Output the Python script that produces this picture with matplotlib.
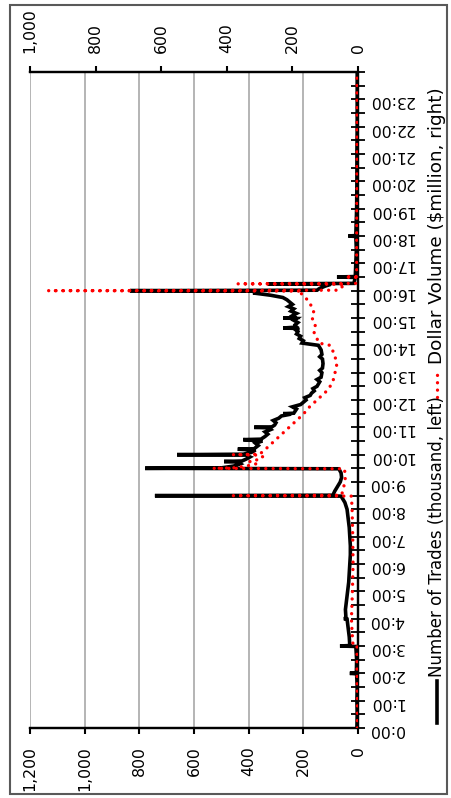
import matplotlib.pyplot as plt
from matplotlib.lines import Line2D
from matplotlib.ticker import FuncFormatter, MultipleLocator

# Number of trades (thousand, left axis) by time of day
trade_times = ["0:00", "0:30", "1:00", "1:30", "1:59", "2:00", "2:01", "2:30", "2:59", "3:00",
               "3:01", "3:20", "3:40", "3:59", "4:00", "4:01", "4:20", "4:40", "5:00", "5:20",
               "5:40", "6:00", "6:20", "6:40", "7:00", "7:20", "7:40", "8:00", "8:15", "8:29",
               "8:30", "8:31", "8:40", "8:50", "9:00", "9:10", "9:20", "9:29", "9:30", "9:31",
               "9:35", "9:40", "9:44", "9:45", "9:46", "9:50", "9:55", "9:59", "10:00", "10:01",
               "10:05", "10:10", "10:12", "10:13", "10:20", "10:25", "10:30", "10:33", "10:34", "10:40",
               "10:45", "10:50", "10:55", "10:59", "11:00", "11:01", "11:05", "11:10", "11:15", "11:20",
               "11:25", "11:29", "11:30", "11:31", "11:40", "11:45", "11:50", "11:55", "12:00", "12:05",
               "12:10", "12:15", "12:20", "12:25", "12:30", "12:35", "12:40", "12:45", "12:50", "13:00",
               "13:05", "13:10", "13:20", "13:30", "13:35", "13:40", "13:50", "14:00", "14:03", "14:05",
               "14:10", "14:15", "14:20", "14:25", "14:30", "14:35", "14:37", "14:38", "14:40", "14:45",
               "14:50", "14:55", "14:59", "15:00", "15:01", "15:05", "15:10", "15:15", "15:20", "15:25",
               "15:30", "15:35", "15:40", "15:45", "15:50", "15:55", "15:59", "16:00", "16:01", "16:05",
               "16:10", "16:14", "16:15", "16:16", "16:29", "16:30", "16:31", "17:00", "17:30", "17:59",
               "18:00", "18:01", "19:00", "20:00", "21:00", "22:00", "23:00", "23:59"]
trades = [4, 3, 4, 3, 5, 30, 6, 5, 8, 66,
          30, 32, 36, 40, 52, 44, 46, 42, 38, 34,
          32, 30, 28, 28, 30, 32, 36, 40, 48, 62,
          743, 92, 85, 75, 65, 60, 62, 70, 779, 500,
          455, 430, 440, 490, 425, 410, 395, 410, 662, 420,
          390, 375, 440, 380, 365, 375, 350, 420, 355, 340,
          330, 340, 320, 330, 380, 315, 305, 300, 310, 290,
          280, 245, 274, 235, 225, 240, 210, 200, 190, 195,
          175, 170, 160, 165, 150, 145, 140, 150, 135, 132,
          140, 130, 128, 130, 140, 132, 135, 145, 180, 205,
          200, 215, 210, 225, 220, 230, 215, 274, 225, 230,
          220, 235, 225, 274, 230, 240, 225, 245, 235, 255,
          240, 250, 260, 275, 320, 384, 360, 834, 150, 140,
          120, 100, 330, 15, 10, 77, 10, 8, 6, 8,
          35, 8, 5, 4, 4, 3, 3, 3]

# Dollar volume ($million, right axis)
vol_times = ["0:00", "1:00", "2:00", "2:59", "3:00", "3:30", "4:00", "5:00", "6:00", "7:00",
             "8:00", "8:29", "8:30", "8:31", "8:45", "9:00", "9:15", "9:29", "9:30", "9:31",
             "9:35", "9:40", "9:45", "9:50", "9:55", "9:59", "10:00", "10:01", "10:10", "10:20",
             "10:30", "10:40", "10:50", "11:00", "11:10", "11:20", "11:30", "11:40", "11:50", "12:00",
             "12:10", "12:20", "12:30", "12:45", "13:00", "13:15", "13:30", "13:45", "14:00", "14:05",
             "14:15", "14:30", "14:45", "15:00", "15:15", "15:30", "15:45", "15:55", "15:59", "16:00",
             "16:01", "16:14", "16:15", "16:16", "16:29", "16:30", "16:31", "18:00", "20:00", "22:00",
             "23:59"]
volume = [2, 2, 3, 3, 15, 18, 20, 17, 15, 16,
          18, 20, 380, 50, 45, 40, 38, 42, 442, 380,
          340, 310, 330, 300, 290, 300, 381, 300, 285, 270,
          255, 240, 225, 210, 195, 180, 165, 155, 140, 125,
          110, 95, 85, 75, 70, 65, 68, 75, 85, 120,
          125, 135, 130, 140, 135, 145, 160, 175, 170, 944,
          60, 40, 366, 5, 5, 40, 4, 4, 3, 3,
          3]

hour_labels = [f"{h}:00" for h in range(24)]


def to_hours(stamps):
    out = []
    for s in stamps:
        h, m = s.split(":")
        out.append(int(h) + int(m) / 60)
    return out


W, H = 451, 798
fig = plt.figure(figsize=(W / 100, H / 100), dpi=100)
plt.rcParams['font.family'] = 'DejaVu Sans'

# plot area in pixels: x 30..358, y 72..728
ax = fig.add_axes([30 / W, 1 - 728 / H, 328 / W, 656 / H])
ax2 = ax.twiny()

ax.plot(trades, to_hours(trade_times), color="black", lw=2.6, solid_joinstyle="miter", zorder=3)
ax2.plot(volume, to_hours(vol_times), color="#ff0000", lw=2.4, linestyle=(0, (0.01, 2.2)),
         dash_capstyle="round", zorder=4)

ax.set_xlim(1200, 0)
ax2.set_xlim(1000, 0)
ax.set_ylim(0, 24)

ax.set_xticks(range(0, 1201, 200))
ax2.set_xticks(range(0, 1001, 200))
fmt = FuncFormatter(lambda v, p: f"{int(v):,}")
ax.xaxis.set_major_formatter(fmt)
ax2.xaxis.set_major_formatter(fmt)
ax.grid(axis="x", color="#a0a0a0", lw=1.1)
ax.set_axisbelow(True)

ax.yaxis.tick_right()
ax.set_yticks(range(24))
ax.set_yticklabels(hour_labels)
ax.yaxis.set_minor_locator(MultipleLocator(0.5))

ax.tick_params(axis="x", direction="out", length=4, width=1.5, labelsize=11.3,
               labelrotation=90, pad=9)
ax2.tick_params(axis="x", direction="out", length=4, width=1.5, labelsize=11.3,
                labelrotation=90, pad=10)
ax.tick_params(axis="y", which="both", direction="inout", length=10, width=1.3,
               labelsize=11.3, labelrotation=180, pad=3)
for lab in ax.get_yticklabels():
    lab.set_horizontalalignment("left")

for a in (ax, ax2):
    a.spines["left"].set_visible(False)
    a.spines["right"].set_visible(False)
    a.spines["top"].set_linewidth(1.6)
    a.spines["bottom"].set_linewidth(1.6)
ax.spines["right"].set_visible(True)
ax.spines["right"].set_linewidth(1.6)
ax2.spines["right"].set_visible(True)
ax2.spines["right"].set_linewidth(1.6)

# outer chart border
fig.add_artist(plt.Rectangle((10 / W, 1 - 794 / H), 437 / W, 789 / H, transform=fig.transFigure,
                             fill=False, edgecolor="#595959", lw=1.5))

# legend, drawn rotated
fig.add_artist(Line2D([437 / W, 437 / W], [1 - 723 / H, 1 - 681 / H], color="black", lw=2.6,
                      transform=fig.transFigure))
fig.text(437 / W, 1 - 677 / H, "Number of Trades (thousand, left)", rotation=90,
         ha="center", va="bottom", fontsize=12)
fig.add_artist(Line2D([437 / W, 437 / W], [1 - 397 / H, 1 - 368 / H], color="#ff0000", lw=2.4,
                      linestyle=(0, (0.01, 2.2)), dash_capstyle="round",
                      transform=fig.transFigure))
fig.text(437 / W, 1 - 364 / H, "Dollar Volume ($million, right)", rotation=90,
         ha="center", va="bottom", fontsize=13.2)

fig.savefig("out.png", dpi=100)
